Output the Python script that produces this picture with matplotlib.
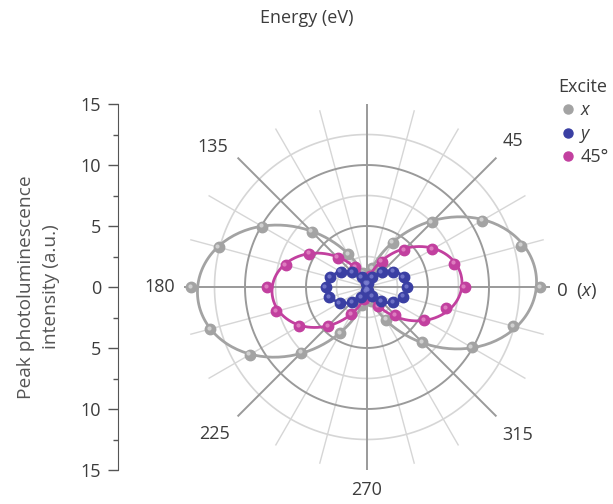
import numpy as np
import matplotlib.pyplot as plt
from matplotlib.lines import Line2D
from matplotlib.transforms import offset_copy

plt.rcParams['font.family'] = ['Open Sans', 'DejaVu Sans']
plt.rcParams['mathtext.fontset'] = 'custom'
plt.rcParams['mathtext.it'] = 'Open Sans:italic'
plt.rcParams['mathtext.rm'] = 'Open Sans'

# polarisation angle of detection (deg)
angles = [0, 15, 30, 45, 60, 75, 90, 105, 120, 135, 150, 165,
          180, 195, 210, 225, 240, 255, 270, 285, 300, 315, 330, 345]

# peak PL intensity for each excitation polarisation
r_x = [14.2, 13.1, 10.9, 7.5, 4.2, 1.6, 0.3, 1.2, 3.1, 6.4, 9.9, 12.6,
       14.4, 13.3, 11.1, 7.6, 4.4, 1.5, 0.3, 1.2, 3.1, 6.4, 9.9, 12.4]
r_y = [3.3, 3.1, 2.5, 1.7, 0.9, 0.35, 0.2, 0.35, 0.9, 1.7, 2.5, 3.1,
       3.4, 3.2, 2.6, 1.75, 0.95, 0.35, 0.2, 0.3, 0.85, 1.65, 2.45, 3.05]
r_45 = [8.0, 7.4, 6.15, 4.3, 2.4, 0.9, 0.3, 0.6, 1.9, 3.4, 5.45, 6.9,
        8.2, 7.7, 6.4, 4.5, 2.6, 1.0, 0.3, 0.6, 1.8, 3.3, 5.4, 6.7]

angle_ticks = [0, 45, 90, 135, 180, 225, 270, 315]
angle_labels = ['0  ($x$)', '45', '90  ($y$)', '135', '180', '225', '270', '315']

TXT = '#3c3c3c'
DARK = '#9a9a9a'
LIGHT = '#d6d6d6'
C_X = '#a3a3a3'
C_Y = '#3a3fa3'
C_45 = '#c2409f'
HL = {C_X: '#dcdcdc', C_Y: '#7a7ed0', C_45: '#e58cc8'}


def fit_curve(th_deg, r):
    # least squares fit r = a + b cos2t + c sin2t
    t = np.deg2rad(th_deg)
    A = np.column_stack([np.ones_like(t), np.cos(2 * t), np.sin(2 * t)])
    coef = np.linalg.lstsq(A, np.asarray(r), rcond=None)[0]
    tt = np.linspace(0, 2 * np.pi, 400)
    rr = coef[0] + coef[1] * np.cos(2 * tt) + coef[2] * np.sin(2 * tt)
    return tt, np.clip(rr, 0, None)


fig = plt.figure(figsize=(6.13, 5.04), dpi=100)

pax = fig.add_axes([184 / 613, 34 / 504, 366 / 613, 366 / 504], projection='polar')
pax.set_ylim(0, 15)
pax.axis('off')

# grid
full = np.linspace(0, 2 * np.pi, 361)
for th in range(0, 360, 15):
    if th % 45:
        pax.plot([np.deg2rad(th)] * 2, [0, 15], color=LIGHT, lw=1.0, zorder=1)
for rc in [2.5, 7.5, 12.5]:
    pax.plot(full, np.full_like(full, rc), color=LIGHT, lw=1.2, zorder=1)
for rc in [5, 10]:
    pax.plot(full, np.full_like(full, rc), color=DARK, lw=1.4, zorder=1.5)
for th in angle_ticks:
    pax.plot([np.deg2rad(th)] * 2, [0, 15], color=DARK, lw=1.4, zorder=1.5)

hl_trans = offset_copy(pax.transData, fig=fig, x=-1.3, y=1.3, units='dots')
th_rad = np.deg2rad(angles)
for r, c, z in [(r_x, C_X, 3), (r_45, C_45, 4), (r_y, C_Y, 5)]:
    tt, rr = fit_curve(angles, r)
    pax.plot(tt, rr, color=c, lw=2.0, zorder=z)
    pax.plot(th_rad, r, 'o', ms=7.5, color=c, mec=c, zorder=z + 0.5)
    pax.plot(th_rad, r, 'o', ms=3, color=HL[c], mec='none', alpha=0.8,
             transform=hl_trans, zorder=z + 0.6)

# angle labels
lab_pos = {0: (-1.2, 15.5), 45: (45, 16.9), 90: (90, 16.6), 135: (137.7, 17.05),
           180: (180, 17.0), 225: (224, 17.4), 270: (270, 16.6), 315: (315.5, 17.3)}
for th, lab in zip(angle_ticks, angle_labels):
    a, rr = lab_pos[th]
    if th == 0:
        pax.text(np.deg2rad(a), rr, lab, ha='left', va='center', fontsize=13.5, color=TXT)
    elif th == 90:
        pax.annotate(lab, xy=(np.deg2rad(a), rr), xytext=(9, 0),
                     textcoords='offset points', ha='center', va='center',
                     fontsize=13.5, color=TXT)
    else:
        pax.text(np.deg2rad(a), rr, lab, ha='center', va='center',
                 fontsize=13, color=TXT)

# left intensity scale
lax = fig.add_axes([118 / 613, 34 / 504, 0.001, 366 / 504])
lax.set_ylim(-15, 15)
for s in ['top', 'right', 'bottom']:
    lax.spines[s].set_visible(False)
lax.spines['left'].set_color('#555555')
lax.set_xticks([])
lax.set_yticks([-15, -10, -5, 0, 5, 10, 15])
lax.set_yticklabels(['15', '10', '5', '0', '5', '10', '15'])
lax.set_yticks(np.arange(-15, 15.1, 2.5), minor=True)
lax.tick_params(axis='y', which='major', length=7, width=1, color='#555555',
                labelsize=13, labelcolor=TXT, pad=5)
lax.tick_params(axis='y', which='minor', length=3.5, width=1, color='#555555')

fig.text(39 / 613, 1 - 287 / 504, 'Peak photoluminescence\nintensity (a.u.)',
         rotation=90, ha='center', va='center', fontsize=13.8, color='#555555',
         linespacing=1.5)
fig.text(307 / 613, 1 - 18 / 504, 'Energy (eV)', ha='center', va='center',
         fontsize=13, color=TXT)

handles = [Line2D([], [], marker='o', ls='', ms=6.5, color=c) for c in [C_X, C_Y, C_45]]
leg = fig.legend(handles, ['x', 'y', '45°'], title='Excite', loc='upper left',
                 bbox_to_anchor=(548 / 613, 1 - 69 / 504), frameon=False,
                 fontsize=13, title_fontsize=13, handletextpad=0.1,
                 labelspacing=0.3, borderpad=0, handlelength=1.2)
leg.get_texts()[0].set_style('italic')
leg.get_texts()[1].set_style('italic')
for t in leg.get_texts():
    t.set_color(TXT)
leg.get_title().set_color(TXT)

fig.savefig('out.png', dpi=100)
